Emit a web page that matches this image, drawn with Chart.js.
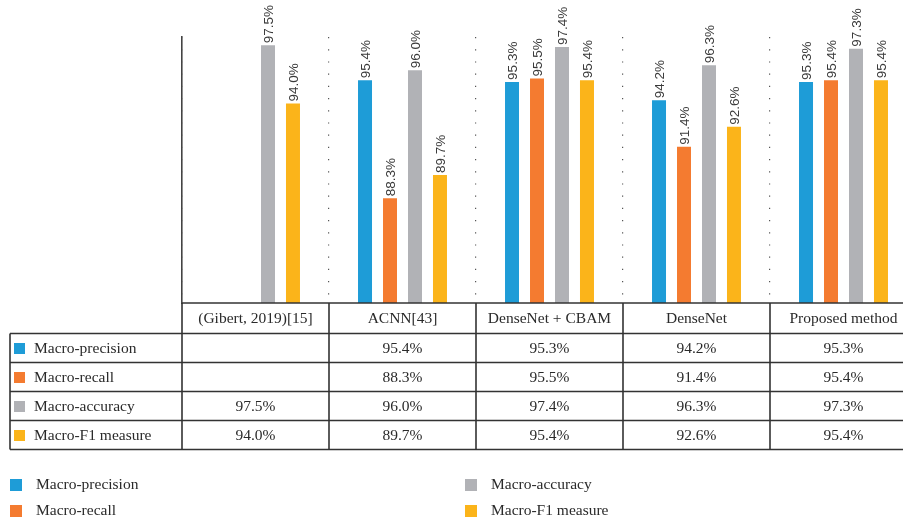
<!DOCTYPE html>
<html>
<head>
<meta charset="utf-8">
<script src="https://cdn.jsdelivr.net/npm/chart.js@4/dist/chart.umd.min.js"></script>
<style>
html,body{margin:0;padding:0;background:#fff;overflow:hidden;width:903px;height:519px;}
canvas{display:block;}
</style>
</head>
<body>
<canvas id="c" width="918" height="519"></canvas>
<script>
const categories = ['(Gibert, 2019)[15]', 'ACNN[43]', 'DenseNet + CBAM', 'DenseNet', 'Proposed method'];
const seriesNames = ['Macro-precision', 'Macro-recall', 'Macro-accuracy', 'Macro-F1 measure'];
const precision = [null, 95.4, 95.3, 94.2, 95.3];
const recall = [null, 88.3, 95.5, 91.4, 95.4];
const accuracy = [97.5, 96.0, 97.4, 96.3, 97.3];
const f1 = [94.0, 89.7, 95.4, 92.6, 95.4];
const colors = ['#1E9CD7', '#F47B30', '#B1B2B6', '#FBB41A'];
const yMin = 82, yMax = 98;

const seriesData = [precision, recall, accuracy, f1];
const SERIF = '"Liberation Serif", "DejaVu Serif", serif';
const fmt = v => v.toFixed(1) + '%';

// pick a narrow sans font for the value labels if available
let LABEL_FONT = '13.5px "Liberation Sans", Arial, sans-serif';
(function () {
  const c = document.createElement('canvas').getContext('2d');
  c.font = '16px monospace';
  const mono = c.measureText('95.4%abcMW').width;
  c.font = '16px "Liberation Sans Narrow", monospace';
  const narrow = c.measureText('95.4%abcMW').width;
  if (Math.abs(mono - narrow) > 0.5) LABEL_FONT = '15.5px "Liberation Sans Narrow", sans-serif';
})();

const tablePlugin = {
  id: 'tablePlugin',
  afterDatasetsDraw(chart) {
    const ctx = chart.ctx;
    ctx.save();
    ctx.fillStyle = '#3a3a3a';
    ctx.font = LABEL_FONT;
    ctx.textAlign = 'left';
    ctx.textBaseline = 'middle';
    chart.data.datasets.forEach((ds, di) => {
      const meta = chart.getDatasetMeta(di);
      meta.data.forEach((bar, i) => {
        const v = ds.data[i];
        if (v === null || v === undefined) return;
        ctx.save();
        ctx.translate(bar.x + 1, bar.y - 2);
        ctx.rotate(-Math.PI / 2);
        ctx.fillText(fmt(v), 0, 0);
        ctx.restore();
      });
    });
    ctx.restore();
  },
  afterDraw(chart) {
    const ctx = chart.ctx;
    const xs = chart.scales.x;
    const area = chart.chartArea;
    const n = categories.length;
    const half = (xs.getPixelForValue(1) - xs.getPixelForValue(0)) / 2;
    const bounds = [];
    for (let i = 0; i < n; i++) bounds.push(xs.getPixelForValue(i) - half);
    bounds.push(xs.getPixelForValue(n - 1) + half);
    const top = area.bottom;
    const headH = 30.5;
    const rowH = 29;
    const tableLeft = 10;
    const right = chart.width;
    const rowTops = [];
    for (let r = 0; r <= seriesNames.length; r++) rowTops.push(top + headH + r * rowH);
    const tableBottom = rowTops[rowTops.length - 1];

    ctx.save();
    ctx.strokeStyle = '#333';
    ctx.lineWidth = 1.6;
    ctx.beginPath();
    ctx.moveTo(bounds[0], top);
    ctx.lineTo(right, top);
    ctx.stroke();
    rowTops.forEach(y => {
      ctx.beginPath();
      ctx.moveTo(tableLeft, y);
      ctx.lineTo(right, y);
      ctx.stroke();
    });
    bounds.forEach(x => {
      ctx.beginPath();
      ctx.moveTo(x, top);
      ctx.lineTo(x, tableBottom);
      ctx.stroke();
    });
    ctx.beginPath();
    ctx.moveTo(tableLeft, rowTops[0]);
    ctx.lineTo(tableLeft, tableBottom);
    ctx.stroke();

    ctx.fillStyle = '#2a2a2a';
    ctx.font = '15.5px ' + SERIF;
    ctx.textAlign = 'center';
    ctx.textBaseline = 'middle';
    categories.forEach((c, i) => {
      ctx.fillText(c, xs.getPixelForValue(i), top + headH / 2 + 1);
    });
    seriesNames.forEach((name, r) => {
      const cy = rowTops[r] + rowH / 2 + 1;
      ctx.fillStyle = colors[r];
      ctx.fillRect(14, cy - 6, 11, 11);
      ctx.fillStyle = '#2a2a2a';
      ctx.textAlign = 'left';
      ctx.fillText(name, 34, cy);
      ctx.textAlign = 'center';
      seriesData[r].forEach((v, i) => {
        if (v === null) return;
        ctx.fillText(fmt(v), xs.getPixelForValue(i), cy);
      });
    });

    const legendPos = [[10, 485], [10, 511], [465, 485], [465, 511]];
    seriesNames.forEach((name, r) => {
      const [lx, ly] = legendPos[r];
      ctx.fillStyle = colors[r];
      ctx.fillRect(lx, ly - 6, 12, 12);
      ctx.fillStyle = '#2a2a2a';
      ctx.textAlign = 'left';
      ctx.fillText(name, lx + 26, ly);
    });
    ctx.restore();
  }
};

new Chart(document.getElementById('c'), {
  type: 'bar',
  data: {
    labels: categories,
    datasets: seriesNames.map((name, i) => ({
      label: name,
      data: seriesData[i],
      backgroundColor: colors[i],
      borderWidth: 0,
      categoryPercentage: 0.68,
      barPercentage: 0.56
    }))
  },
  options: {
    responsive: false,
    animation: false,
    devicePixelRatio: 1,
    layout: { padding: { left: 182, right: 1, top: 37, bottom: 216 } },
    plugins: { legend: { display: false }, tooltip: { enabled: false } },
    scales: {
      x: {
        display: true,
        ticks: { display: false },
        grid: { display: true, offset: true, drawTicks: false, color: '#555', lineWidth: 1.2 },
        border: { display: false, dash: [1.2, 11] }
      },
      y: {
        display: true,
        min: yMin,
        max: yMax,
        ticks: { display: false },
        grid: { display: false, drawTicks: false },
        border: { display: true, color: '#444', width: 1.6 }
      }
    }
  },
  plugins: [tablePlugin]
});
</script>
</body>
</html>
